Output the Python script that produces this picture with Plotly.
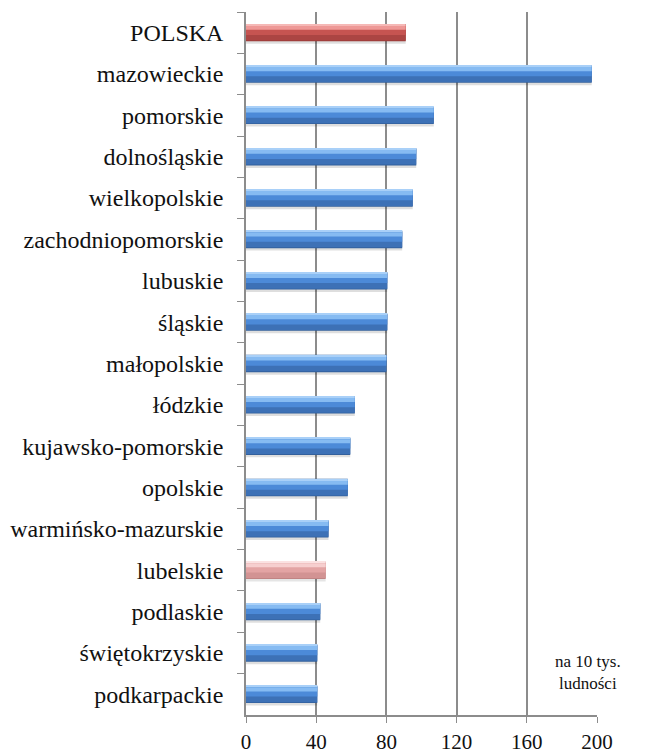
"""
Bar chart: wskaźnik na 10 tys. ludności wg województw
"""

import plotly.graph_objects as go

regions = [
    "POLSKA", "mazowieckie", "pomorskie", "dolnośląskie", "wielkopolskie",
    "zachodniopomorskie", "lubuskie", "śląskie", "małopolskie", "łódzkie",
    "kujawsko-pomorskie", "opolskie", "warmińsko-mazurskie", "lubelskie",
    "podlaskie", "świętokrzyskie", "podkarpackie",
]
values = [91, 197, 107, 97, 95, 89, 80.5, 80.5, 80, 62, 59.4, 58, 47, 45.4, 42.3, 40.6, 40.6]

x_ticks = [0, 40, 80, 120, 160, 200]

SERIF = "Liberation Serif, Times New Roman, serif"

# colour scheme per bar kind: (shadow, edge, lower body, body, highlight, top line)
palette = {
    "blue": ("rgba(0,0,0,0.13)", "#33609c", "#3d71b6", "#4c8ad8", "#86bbf2", "#a9d0f8"),
    "red": ("rgba(0,0,0,0.13)", "#973937", "#ab4543", "#c65451", "#ee9896", "#f5b8b6"),
    "pink": ("rgba(0,0,0,0.10)", "#c08484", "#d29393", "#e3a4a4", "#f6cfcf", "#fbe2e2"),
}
kinds = ["red"] + ["blue"] * 12 + ["pink"] + ["blue"] * 3

# bands (offset, width, palette index) to fake the bevelled 3D look
bands = [
    (-0.18, 0.45, 0),
    (-0.21, 0.42, 1),
    (-0.195, 0.385, 2),
    (-0.195, 0.25, 3),
    (-0.17, 0.10, 4),
    (-0.205, 0.03, 5),
]

fig = go.Figure()

for offset, width, idx in bands:
    fig.add_trace(go.Bar(
        y=regions,
        x=values,
        orientation='h',
        offset=offset,
        width=width,
        marker=dict(color=[palette[k][idx] for k in kinds], line=dict(width=0)),
        hoverinfo='skip' if idx != 3 else None,
        showlegend=False,
    ))

fig.add_annotation(
    text="na 10 tys.<br>ludności",
    x=195, xref='x',
    y=0.061, yref='paper',
    yanchor='middle',
    showarrow=False,
    bgcolor='white',
    borderpad=10,
    font=dict(family=SERIF, size=17, color='#111'),
    align='center',
)

# the page body adds an 8px margin, so the figure is shrunk to fit the window
fig.update_layout(
    barmode='overlay',
    width=637,
    height=745,
    paper_bgcolor='white',
    plot_bgcolor='white',
    margin=dict(l=238, r=48, t=4, b=38),
    font=dict(family=SERIF, color='#111'),
    xaxis=dict(
        range=[0, 200],
        tickvals=x_ticks,
        automargin=False,
        showgrid=True,
        gridcolor='#8c8c8c',
        gridwidth=1.5,
        zeroline=False,
        showline=True,
        linecolor='#8c8c8c',
        linewidth=1.5,
        ticks='outside',
        ticklen=6,
        tickcolor='#8c8c8c',
        tickfont=dict(family=SERIF, size=21, color='#111'),
        ticklabelstandoff=1,
    ),
    yaxis=dict(
        autorange='reversed',
        automargin=False,
        showgrid=False,
        zeroline=False,
        showline=True,
        linecolor='#8c8c8c',
        linewidth=1.5,
        ticks='outside',
        tickson='boundaries',
        ticklen=7,
        tickcolor='#8c8c8c',
        tickfont=dict(family=SERIF, size=24, color='#111'),
        ticklabelstandoff=16,
    ),
)

fig.write_html("out.html")
